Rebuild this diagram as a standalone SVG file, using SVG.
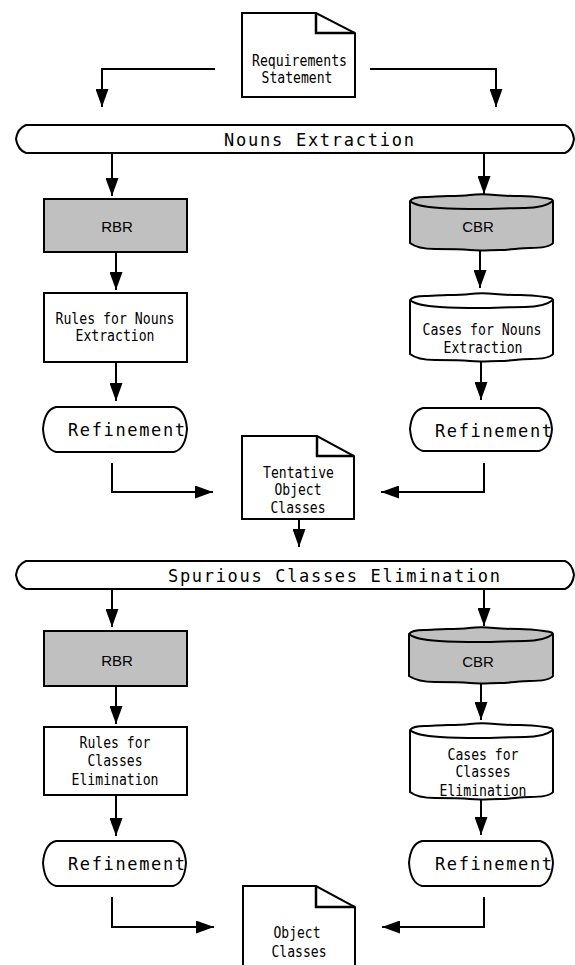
<svg xmlns="http://www.w3.org/2000/svg" width="575" height="965" viewBox="0 0 575 965">
<style>
.ln{fill:none;stroke:#000;stroke-width:2;marker-end:url(#ah)}
.box{fill:#fff;stroke:#000;stroke-width:2}
.gray{fill:#c0c0c0}
.fold{fill:none;stroke:#000;stroke-width:2.5}
.inner{fill:none;stroke:#000;stroke-width:2}
.t{font-family:"DejaVu Sans Mono","Liberation Mono",monospace;font-size:15px;text-anchor:middle;fill:#000}
.s{font-family:"DejaVu Sans Mono","Liberation Mono",monospace;font-size:17px;fill:#000}
.h{font-family:"Liberation Sans",Arial,sans-serif;font-size:15px;text-anchor:middle;fill:#000}
</style>
<defs>
<marker id="ah" markerUnits="userSpaceOnUse" markerWidth="18" markerHeight="13" refX="18" refY="6.5" orient="auto">
<path d="M0,0 L18,6.5 L0,13 Z" fill="#000"/>
</marker>
</defs>

<g id="requirements">
<path class="box" d="M242,13 H316 L355,33 V97 H242 Z"/>
<path class="fold" d="M316,13 V33 H355"/>
<text class="t" x="299.5" y="66" textLength="95" lengthAdjust="spacingAndGlyphs">Requirements</text>
<text class="t" x="297" y="83" textLength="71" lengthAdjust="spacingAndGlyphs">Statement</text>
</g>

<g id="nouns-extraction">
<path class="box" d="M26,125 H565 C570,127 573,132 574,139 C573,146 570,151 565,153 H26 C21,151 17,146 16,139 C17,132 21,127 26,125 Z"/>
<text class="s" x="224" y="146" textLength="190" lengthAdjust="spacing">Nouns Extraction</text>
</g>

<g id="rbr1">
<rect class="box gray" x="44" y="199" width="143" height="53"/>
<text class="h" x="117" y="232">RBR</text>
</g>

<g id="cbr1">
<path class="box gray" d="M410,201 C412,198 418,197 425,197 S440,196 448,196 S462,196 470,195 S486,194 495,195 S512,196 520,196 S538,197 545,198 S552,199 553,201 V243 C550,247 540,248 530,248 S510,250 500,250 S480,251 470,250 S445,249 435,249 S415,247 410,243 Z"/>
<path class="inner" d="M410,201 C414,205 425,207 440,208 S465,209 480,209 S510,208 525,208 S548,205 553,201"/>
<text class="h" x="478" y="232">CBR</text>
</g>

<g id="rules1">
<rect class="box" x="44" y="293" width="143" height="69"/>
<text class="t" x="115" y="324" textLength="119" lengthAdjust="spacingAndGlyphs">Rules for Nouns</text>
<text class="t" x="115" y="341" textLength="79" lengthAdjust="spacingAndGlyphs">Extraction</text>
</g>

<g id="cases1">
<path class="box" d="M410,300 C412,297 418,296 425,296 S440,295 448,295 S462,295 470,294 S486,293 495,294 S512,295 520,295 S538,296 545,297 S552,298 553,300 V354 C550,358 540,359 530,359 S510,361 500,361 S480,362 470,361 S445,360 435,360 S415,358 410,354 Z"/>
<path class="inner" d="M410,300 C414,304 425,306 440,307 S465,308 480,308 S510,307 525,307 S548,304 553,300"/>
<text class="t" x="482" y="335" textLength="119" lengthAdjust="spacingAndGlyphs">Cases for Nouns</text>
<text class="t" x="483" y="353" textLength="79" lengthAdjust="spacingAndGlyphs">Extraction</text>
</g>

<g id="refinement-l1">
<path class="box" d="M56,407 H174 C182,409 186,416 187,429 C186,442 182,450 174,452 H56 C48,450 44,442 43,429 C44,416 48,409 56,407 Z"/>
<text class="s" x="68" y="436" textLength="117" lengthAdjust="spacing">Refinement</text>
</g>

<g id="refinement-r1">
<path class="box" d="M423,408 H539 C547,410 551,417 552,429 C551,441 547,449 539,451 H423 C415,449 411,441 410,429 C411,417 415,410 423,408 Z"/>
<text class="s" x="435" y="437" textLength="117" lengthAdjust="spacing">Refinement</text>
</g>

<g id="tentative">
<path class="box" d="M242,436 H317 L354,456 V519 H242 Z"/>
<path class="fold" d="M317,436 V456 H354"/>
<text class="t" x="298.5" y="478" textLength="71" lengthAdjust="spacingAndGlyphs">Tentative</text>
<text class="t" x="298" y="495" textLength="47" lengthAdjust="spacingAndGlyphs">Object</text>
<text class="t" x="298" y="513" textLength="55" lengthAdjust="spacingAndGlyphs">Classes</text>
</g>

<g id="spurious">
<path class="box" d="M26,561 H565 C570,563 573,568 574,575 C573,582 570,587 565,589 H26 C21,587 17,582 16,575 C17,568 21,563 26,561 Z"/>
<text class="s" x="168" y="582" textLength="332" lengthAdjust="spacing">Spurious Classes Elimination</text>
</g>

<g id="rbr2">
<rect class="box gray" x="44" y="631" width="143" height="55"/>
<text class="h" x="117" y="666">RBR</text>
</g>

<g id="cbr2">
<path class="box gray" d="M409,634 C411,631 417,630 424,630 S439,629 447,629 S461,629 469,628 S485,627 494,628 S511,629 519,629 S537,630 544,631 S552,632 553,634 V676 C550,680 540,681 530,681 S510,683 500,683 S480,684 470,683 S445,682 435,682 S415,680 409,676 Z"/>
<path class="inner" d="M409,634 C413,638 424,640 439,641 S464,642 480,642 S510,641 525,641 S548,638 553,634"/>
<text class="h" x="478" y="667">CBR</text>
</g>

<g id="rules2">
<rect class="box" x="44" y="727" width="143" height="68"/>
<text class="t" x="115" y="748" textLength="71" lengthAdjust="spacingAndGlyphs">Rules for</text>
<text class="t" x="115" y="766" textLength="55" lengthAdjust="spacingAndGlyphs">Classes</text>
<text class="t" x="115" y="785" textLength="87" lengthAdjust="spacingAndGlyphs">Elimination</text>
</g>

<g id="cases2">
<path class="box" d="M410,730 C412,727 418,726 425,726 S440,725 448,725 S462,725 470,724 S486,723 495,724 S512,725 520,725 S538,726 545,727 S552,728 553,730 V792 C550,796 540,797 530,797 S510,799 500,799 S480,800 470,799 S445,798 435,798 S415,796 410,792 Z"/>
<path class="inner" d="M410,730 C414,734 425,736 440,737 S465,738 480,738 S510,737 525,737 S548,734 553,730"/>
<text class="t" x="483" y="760" textLength="71" lengthAdjust="spacingAndGlyphs">Cases for</text>
<text class="t" x="483" y="777" textLength="55" lengthAdjust="spacingAndGlyphs">Classes</text>
<text class="t" x="483" y="796" textLength="87" lengthAdjust="spacingAndGlyphs">Elimination</text>
</g>

<g id="refinement-l2">
<path class="box" d="M56,841 H173 C181,843 185,850 186,863 C185,876 181,884 173,886 H56 C48,884 44,876 43,863 C44,850 48,843 56,841 Z"/>
<text class="s" x="68" y="870" textLength="117" lengthAdjust="spacing">Refinement</text>
</g>

<g id="refinement-r2">
<path class="box" d="M422,841 H540 C548,843 552,850 553,863 C552,876 548,884 540,886 H422 C414,884 410,876 409,863 C410,850 414,843 422,841 Z"/>
<text class="s" x="435" y="870" textLength="117" lengthAdjust="spacing">Refinement</text>
</g>

<g id="object-classes">
<path class="box" d="M243,886 H316 L355,907 V970 H243 Z"/>
<path class="fold" d="M316,886 V907 H355"/>
<text class="t" x="297" y="938" textLength="47" lengthAdjust="spacingAndGlyphs">Object</text>
<text class="t" x="299" y="957" textLength="55" lengthAdjust="spacingAndGlyphs">Classes</text>
</g>

<g id="connectors">
<path class="ln" d="M215,69 H102 V107"/>
<path class="ln" d="M370,69 H496 V107"/>
<path class="ln" d="M112,153 V196"/>
<path class="ln" d="M484,153 V194"/>
<path class="ln" d="M116,252 V290"/>
<path class="ln" d="M480,250 V288"/>
<path class="ln" d="M116,362 V401"/>
<path class="ln" d="M481,361 V400"/>
<path class="ln" d="M112,463 V492 H213"/>
<path class="ln" d="M484,463 V492 H381"/>
<path class="ln" d="M299,519 V547"/>
<path class="ln" d="M112,589 V627"/>
<path class="ln" d="M484,589 V626"/>
<path class="ln" d="M116,686 V724"/>
<path class="ln" d="M481,684 V720"/>
<path class="ln" d="M116,795 V836"/>
<path class="ln" d="M481,800 V835"/>
<path class="ln" d="M112,897 V927 H214"/>
<path class="ln" d="M484,897 V927 H382"/>
</g>
</svg>
